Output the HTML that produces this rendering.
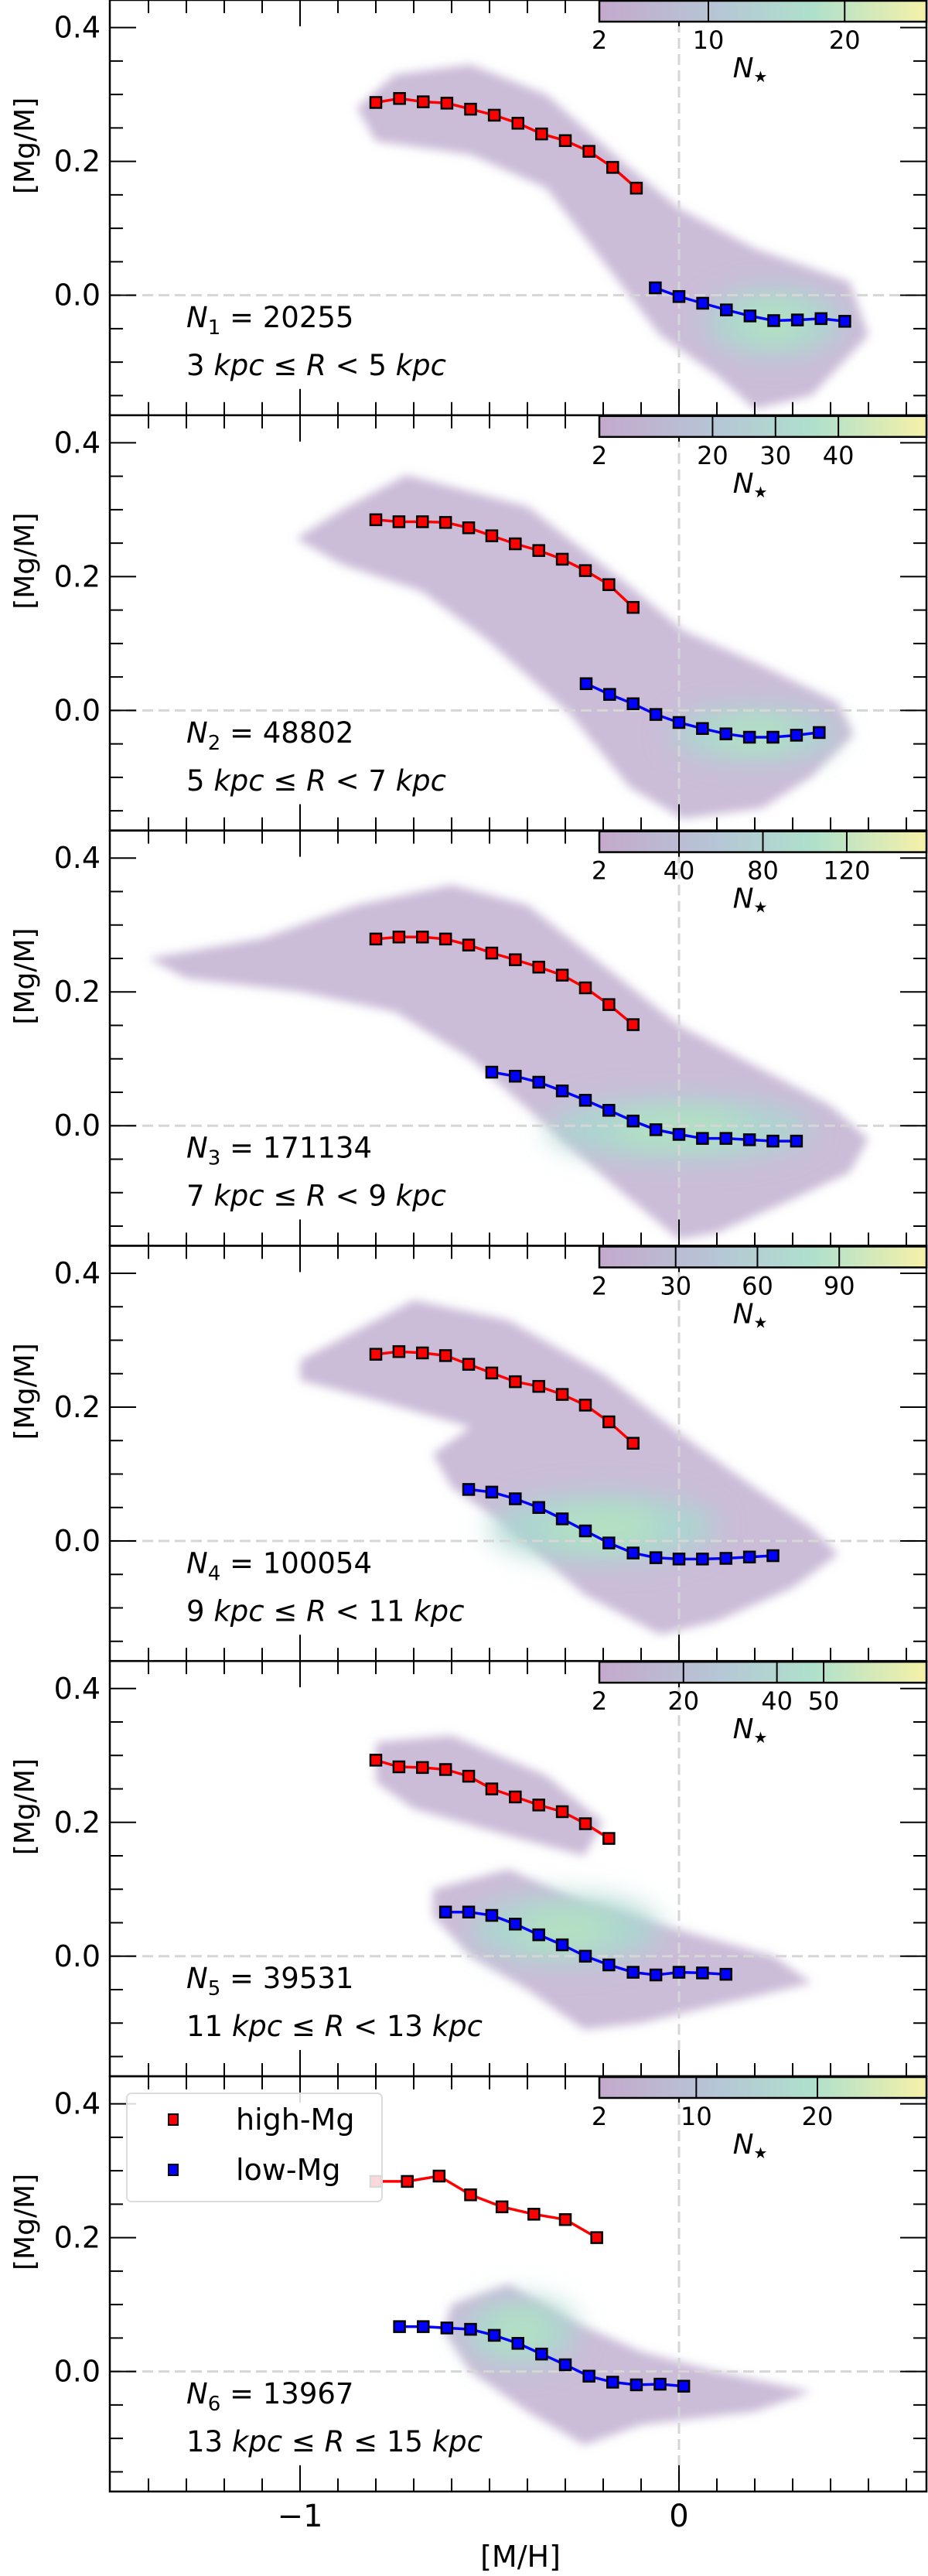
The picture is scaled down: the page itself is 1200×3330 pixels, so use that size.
<!DOCTYPE html>
<html><head><meta charset="utf-8"><style>
html,body{margin:0;padding:0;background:#fff}
svg{display:block;font-family:"DejaVu Sans","Liberation Sans",sans-serif}
</style></head><body>
<svg id="fig" width="1200" height="3330" viewBox="0 0 1200 3330" xmlns="http://www.w3.org/2000/svg">
<defs>
<linearGradient id="cmap" x1="0" x2="1" y1="0" y2="0">
<stop offset="0" stop-color="#c4a9cc"/><stop offset="0.35" stop-color="#b6c5d6"/>
<stop offset="0.65" stop-color="#aee0cc"/><stop offset="1" stop-color="#f6f1a8"/>
</linearGradient>
<filter id="blur" x="-20%" y="-20%" width="140%" height="140%"><feGaussianBlur stdDeviation="6"/></filter>
<filter id="blur2" x="-50%" y="-50%" width="200%" height="200%"><feGaussianBlur stdDeviation="18"/></filter>
</defs>
</svg>
<script>
// ---- data ----
const panelLabels = ["N1","N2","N3","N4","N5","N6"];
const panelCounts = ["20255","48802","171134","100054","39531","13967"];
const panelRanges = ["3 kpc ≤ R < 5 kpc","5 kpc ≤ R < 7 kpc","7 kpc ≤ R < 9 kpc","9 kpc ≤ R < 11 kpc","11 kpc ≤ R < 13 kpc","13 kpc ≤ R ≤ 15 kpc"];
const cbarMax = [26,54,158,122,72,29];
const cbarTicks = [[2,10,20],[2,20,30,40],[2,40,80,120],[2,30,60,90],[2,20,40,50],[2,10,20]];
const highX = [
 [-0.8,-0.7375,-0.675,-0.6125,-0.55,-0.4875,-0.425,-0.3625,-0.3,-0.2375,-0.175,-0.1125],
 [-0.8,-0.739,-0.677,-0.616,-0.555,-0.494,-0.432,-0.370,-0.308,-0.247,-0.185,-0.121],
 [-0.8,-0.739,-0.677,-0.616,-0.555,-0.494,-0.432,-0.370,-0.308,-0.247,-0.185,-0.121],
 [-0.8,-0.739,-0.677,-0.616,-0.555,-0.494,-0.432,-0.370,-0.308,-0.247,-0.185,-0.121],
 [-0.8,-0.739,-0.677,-0.616,-0.555,-0.494,-0.432,-0.370,-0.308,-0.247,-0.185],
 [-0.8,-0.717,-0.633,-0.55,-0.467,-0.383,-0.3,-0.217]];
const highY = [
 [0.288,0.294,0.289,0.287,0.278,0.269,0.257,0.241,0.231,0.215,0.191,0.160],
 [0.285,0.282,0.282,0.281,0.273,0.261,0.249,0.239,0.226,0.209,0.188,0.154],
 [0.279,0.282,0.282,0.279,0.270,0.258,0.248,0.237,0.225,0.206,0.181,0.151],
 [0.279,0.283,0.281,0.277,0.264,0.251,0.238,0.231,0.219,0.203,0.178,0.146],
 [0.293,0.283,0.282,0.279,0.269,0.250,0.238,0.226,0.216,0.198,0.176],
 [0.284,0.284,0.292,0.264,0.246,0.235,0.227,0.200]];
const lowX = [
 [-0.0625,0,0.0625,0.125,0.1875,0.25,0.3125,0.375,0.4375],
 [-0.245,-0.183,-0.121,-0.061,0,0.062,0.124,0.186,0.248,0.310,0.370],
 [-0.494,-0.432,-0.370,-0.308,-0.247,-0.185,-0.121,-0.061,0,0.062,0.124,0.186,0.248,0.310],
 [-0.555,-0.494,-0.432,-0.370,-0.308,-0.247,-0.185,-0.121,-0.061,0,0.062,0.124,0.186,0.248],
 [-0.616,-0.555,-0.494,-0.432,-0.370,-0.308,-0.247,-0.185,-0.121,-0.061,0,0.062,0.124],
 [-0.7375,-0.675,-0.6125,-0.55,-0.4875,-0.425,-0.3625,-0.3,-0.2375,-0.175,-0.1125,-0.05,0.0125]];
const lowY = [
 [0.011,-0.002,-0.012,-0.022,-0.031,-0.038,-0.037,-0.035,-0.039],
 [0.040,0.024,0.010,-0.006,-0.018,-0.027,-0.035,-0.040,-0.040,-0.037,-0.033],
 [0.080,0.074,0.065,0.052,0.038,0.023,0.007,-0.006,-0.013,-0.019,-0.019,-0.021,-0.023,-0.023],
 [0.077,0.073,0.063,0.050,0.033,0.015,-0.003,-0.018,-0.025,-0.027,-0.027,-0.026,-0.024,-0.022],
 [0.066,0.066,0.061,0.048,0.032,0.017,0,-0.013,-0.024,-0.028,-0.024,-0.025,-0.027],
 [0.067,0.067,0.065,0.063,0.054,0.042,0.026,0.010,-0.007,-0.016,-0.020,-0.019,-0.022]];
// density cloud outlines [x,y] pairs (data coords)
const clouds = [
 [[[-0.85,0.28],[-0.75,0.33],[-0.55,0.345],[-0.35,0.30],[-0.15,0.20],[0.0,0.13],[0.2,0.07],[0.45,0.02],[0.5,-0.06],[0.35,-0.15],[0.2,-0.17],[0.1,-0.12],[-0.05,-0.06],[-0.2,0.05],[-0.35,0.16],[-0.55,0.21],[-0.8,0.23]]],
 [[[-1.01,0.257],[-0.89,0.3],[-0.72,0.352],[-0.40,0.305],[-0.13,0.186],[0.01,0.12],[0.22,0.067],[0.42,0.012],[0.46,-0.036],[0.35,-0.099],[0.22,-0.146],[0.01,-0.162],[-0.13,-0.115],[-0.29,-0.004],[-0.51,0.107],[-0.68,0.178],[-0.89,0.218]]],
 [[[-1.4,0.25],[-1.1,0.28],[-0.85,0.33],[-0.6,0.36],[-0.4,0.33],[-0.2,0.24],[0.0,0.15],[0.2,0.09],[0.4,0.03],[0.5,-0.02],[0.45,-0.07],[0.3,-0.11],[0.1,-0.16],[0.0,-0.17],[-0.15,-0.1],[-0.35,0.0],[-0.55,0.1],[-0.75,0.17],[-1.0,0.2],[-1.3,0.22]]],
 [[[-1.0,0.27],[-0.9,0.3],[-0.7,0.36],[-0.45,0.33],[-0.2,0.25],[-0.02,0.17],[0.15,0.1],[0.35,0.02],[0.42,-0.02],[0.3,-0.07],[0.1,-0.12],[-0.05,-0.14],[-0.25,-0.08],[-0.45,0.02],[-0.6,0.08],[-0.65,0.13],[-0.55,0.17],[-0.8,0.21],[-1.0,0.24]]],
 [[[-0.8,0.32],[-0.6,0.33],[-0.35,0.27],[-0.2,0.2],[-0.25,0.15],[-0.45,0.18],[-0.7,0.22],[-0.8,0.26]],
  [[-0.65,0.1],[-0.45,0.13],[-0.25,0.08],[0.0,0.04],[0.25,0.0],[0.35,-0.04],[0.2,-0.06],[-0.1,-0.1],[-0.25,-0.11],[-0.4,-0.05],[-0.55,0.0],[-0.65,0.06]]],
 [[[-0.6,0.1],[-0.45,0.13],[-0.3,0.08],[-0.1,0.03],[0.1,0.0],[0.35,-0.03],[0.2,-0.06],[-0.1,-0.08],[-0.25,-0.11],[-0.4,-0.06],[-0.55,0.0],[-0.62,0.06]]]];
// density cores [cx, cy, rx(dex), ry(dex)]
const cores = [[[0.25,-0.04,0.18,0.05]],[[0.2,-0.035,0.22,0.04]],[[0.0,-0.005,0.35,0.045]],[[-0.2,0.02,0.3,0.05]],[[-0.3,0.04,0.25,0.05]],[[-0.42,0.06,0.15,0.05]]];

// ---- layout ----
const svg=document.getElementById('fig');
const NS="http://www.w3.org/2000/svg";
const L=142,R=1198,PH=536.8;
function sx(v){return 878+v*490;}
function sy(p,v){return p*PH+35.6+(0.4-v)*865;}
function el(tag,attrs,parent){const e=document.createElementNS(NS,tag);for(const k in attrs)e.setAttribute(k,attrs[k]);(parent||svg).appendChild(e);return e;}

for(let p=0;p<6;p++){
  const top=p*PH, bot=top+PH;
  const g=el('g',{});
  
  
  const clip=el('clipPath',{id:'clip'+p},svg);
  el('rect',{x:L,y:top,width:R-L,height:PH},clip);
  const dg=el('g',{'clip-path':'url(#clip'+p+')'},g);
  
  
  clouds[p].forEach(poly=>{
    const pts=poly.map(q=>sx(q[0]).toFixed(1)+','+sy(p,q[1]).toFixed(1)).join(' ');
    const c=el('polygon',{points:pts,fill:'#cbbcd8',filter:'url(#blur)'},dg);
    
    
  });
  cores[p].forEach(c=>{
    const e1=el('ellipse',{cx:sx(c[0]),cy:sy(p,c[1]),rx:c[2]*490,ry:c[3]*865,fill:'#abd6d0',filter:'url(#blur2)'},dg);
    
    
    el('ellipse',{cx:sx(c[0]),cy:sy(p,c[1]),rx:c[2]*490*0.5,ry:c[3]*865*0.5,fill:'#b6e2bf',filter:'url(#blur2)'},dg);
  });
  // reference dashed lines
  el('line',{x1:L,x2:R,y1:sy(p,0),y2:sy(p,0),stroke:'#d6d6d6','stroke-width':3,'stroke-dasharray':'14,7'},g);
  el('line',{x1:sx(0),x2:sx(0),y1:top+28,y2:bot,stroke:'#d6d6d6','stroke-width':3,'stroke-dasharray':'14,7'},g);
  // series
  [[highX[p],highY[p],'#ff0000','high-mg'],[lowX[p],lowY[p],'#0000ff','low-mg']].forEach(s=>{
    const pts=s[0].map((x,i)=>sx(x).toFixed(1)+','+sy(p,s[1][i]).toFixed(1)).join(' ');
    const ln=el('polyline',{points:pts,fill:'none',stroke:s[2],'stroke-width':3.5},g);
    
    
    s[0].forEach((x,i)=>{
      const m=el('rect',{x:sx(x)-7,y:sy(p,s[1][i])-7,width:14,height:14,fill:s[2],stroke:'#000','stroke-width':2.5},g);
      
      
    });
  });
  // frame
  el('rect',{x:L,y:top,width:R-L,height:PH,fill:'none',stroke:'#000','stroke-width':2.5},g);
  // x ticks
  for(let k=-15;k<=6;k++){
    const v=k/10, x=sx(v); if(x<L+2||x>R-2) continue;
    const len=(k%10===0)?34:17;
    el('line',{x1:x,x2:x,y1:top,y2:top+len,stroke:'#000','stroke-width':2},g);
    el('line',{x1:x,x2:x,y1:bot,y2:bot-len,stroke:'#000','stroke-width':2},g);
  }
  // y ticks
  for(let k=-3;k<=8;k++){
    const v=k*0.05, y=sy(p,v); if(y<top+2||y>bot-2) continue;
    const major=(k%4===0), len=major?34:17;
    el('line',{x1:L,x2:L+len,y1:y,y2:y,stroke:'#000','stroke-width':2},g);
    el('line',{x1:R,x2:R-len,y1:y,y2:y,stroke:'#000','stroke-width':2},g);
    if(major){
      const t=el('text',{x:130,y:y+13,'font-size':38,'text-anchor':'end'},g);
      t.textContent=v.toFixed(1);
      
      
    }
  }
  const yl=el('text',{x:0,y:0,'font-size':36,'text-anchor':'middle',transform:`translate(44,${top+PH/2-80}) rotate(-90)`},g);
  yl.textContent='[Mg/M]';
  
  
  // annotation
  const a1=el('text',{x:241,y:top+423,'font-size':37},g);
  a1.innerHTML='<tspan font-style="italic">N</tspan><tspan font-size="26" dy="9">'+panelLabels[p].slice(1)+'</tspan><tspan dy="-9"> = '+panelCounts[p]+'</tspan>';
  
  
  const parts=panelRanges[p].split(' ');
  const a2=el('text',{x:241,y:top+485,'font-size':37,'xml:space':'preserve'},g);
  a2.innerHTML=parts.map(w=>(w==='kpc'||w==='R')?'<tspan font-style="italic">'+w+'</tspan>':w).join(' ');
  
  
  // colorbar
  const cb=el('g',{},g);
  
  
  const cx0=775,cx1=1198,cw=cx1-cx0;
  el('rect',{x:cx0,y:top+1,width:cw,height:27,fill:'url(#cmap)',stroke:'#000','stroke-width':2.5},cb);
  cbarTicks[p].forEach(t=>{
    const x=cx0+(t-2)/(cbarMax[p]-2)*cw;
    if(t!==2) el('line',{x1:x,x2:x,y1:top,y2:top+28,stroke:'#000','stroke-width':2},cb);
    const tl=el('text',{x:x,y:top+63,'font-size':32,'text-anchor':'middle'},cb);
    tl.textContent=t;
    
    
  });
  const nl=el('text',{x:970,y:top+100,'font-size':36,'text-anchor':'middle'},cb);
  nl.innerHTML='<tspan font-style="italic">N</tspan><tspan font-size="20" dy="6">★</tspan>';
  
  
}
// x tick labels
[[-1,'−1'],[0,'0']].forEach(t=>{
  const e=el('text',{x:sx(t[0]),y:3266,'font-size':40,'text-anchor':'middle'});
  e.textContent=t[1];
  
  
});
const xt=el('text',{x:673,y:3318,'font-size':38,'text-anchor':'middle'});
xt.textContent='[M/H]';


// legend
const lg=el('g',{});


el('rect',{x:164,y:2706,width:330,height:140,rx:6,fill:'#fff','fill-opacity':0.85,stroke:'#dcdcdc','stroke-width':2},lg);
[['high-Mg','#ff0000',2740],['low-Mg','#0000ff',2805]].forEach(e=>{
  const it=el('g',{},lg);
  
  
  el('rect',{x:218,y:e[2]-7,width:12,height:14,fill:e[1],stroke:'#000','stroke-width':2},it);
  const t=el('text',{x:305,y:e[2]+13,'font-size':38},it);
  t.textContent=e[0];
});
</script>
</body></html>
